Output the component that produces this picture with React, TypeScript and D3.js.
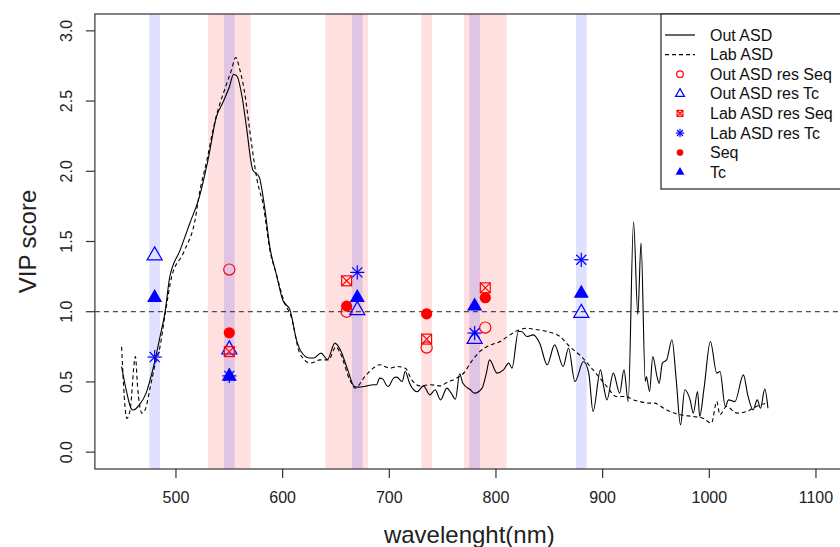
import React from 'react'
import * as d3 from 'd3'

// VIP curves (wavelength nm, VIP score)
const outWl = [449, 454, 458, 460, 466, 472, 479, 485, 490, 494, 504, 513, 522, 530, 538, 544, 550, 554, 557, 562, 566, 572, 578, 583, 588, 594, 600, 607, 613, 617, 625, 629, 636, 642, 649, 654, 661, 667, 671, 676, 679, 685, 688, 691, 694, 697, 699, 704, 707, 712, 715, 719, 726, 732, 738, 743, 748, 754, 758, 762, 766, 769, 776, 780, 787, 791, 794, 801, 807, 812, 815, 821, 824, 829, 835, 841, 848, 855, 863, 868, 874, 882, 887, 891, 898, 901, 904, 910, 916, 920, 924, 929, 933, 936, 940, 941, 944, 947, 951, 953, 956, 960, 965, 969, 973, 977, 982, 985, 989, 991, 995, 1001, 1007, 1010, 1015, 1018, 1024, 1032, 1036, 1041, 1045, 1048, 1052, 1055]
const outVip = [0.61, 0.42, 0.31, 0.3, 0.34, 0.42, 0.61, 0.82, 1.01, 1.24, 1.44, 1.63, 1.82, 2.08, 2.39, 2.49, 2.6, 2.69, 2.68, 2.53, 2.32, 2.01, 1.96, 1.75, 1.46, 1.27, 1.085, 1.01, 0.8, 0.72, 0.67, 0.67, 0.705, 0.66, 0.776, 0.73, 0.586, 0.47, 0.463, 0.467, 0.472, 0.48, 0.48, 0.527, 0.52, 0.48, 0.467, 0.527, 0.534, 0.503, 0.574, 0.49, 0.43, 0.472, 0.408, 0.444, 0.372, 0.456, 0.42, 0.377, 0.558, 0.49, 0.444, 0.42, 0.456, 0.563, 0.657, 0.563, 0.586, 0.634, 0.598, 0.859, 0.859, 0.823, 0.835, 0.776, 0.622, 0.764, 0.61, 0.74, 0.503, 0.645, 0.563, 0.289, 0.586, 0.467, 0.372, 0.563, 0.42, 0.586, 0.36, 1.64, 0.98, 1.49, 0.503, 0.538, 0.432, 0.68, 0.538, 0.49, 0.634, 0.657, 0.8, 0.515, 0.194, 0.444, 0.372, 0.278, 0.432, 0.254, 0.45, 0.788, 0.563, 0.574, 0.325, 0.372, 0.36, 0.55, 0.408, 0.3, 0.372, 0.313, 0.449, 0.313]

const labWl = [449, 454, 457, 462, 464, 468, 471, 476, 480, 485, 490, 496, 507, 519, 521, 529, 537, 546, 552, 556, 560, 565, 569, 576, 582, 588, 594, 602, 608, 616, 626, 635, 643, 650, 654, 663, 668, 677, 685, 691, 701, 707, 715, 721, 729, 738, 748, 754, 763, 771, 776, 785, 794, 804, 813, 821, 829, 835, 848, 860, 869, 880, 891, 904, 913, 922, 929, 935, 944, 948, 960, 973, 985, 994, 1002, 1007, 1010, 1016, 1026, 1035, 1041, 1048, 1054]
const labVip = [0.75, 0.24, 0.3, 0.68, 0.467, 0.278, 0.3, 0.467, 0.61, 0.75, 0.99, 1.25, 1.42, 1.7, 1.8, 2.08, 2.37, 2.59, 2.72, 2.81, 2.72, 2.53, 2.3, 1.94, 1.75, 1.44, 1.27, 1.06, 0.966, 0.705, 0.634, 0.657, 0.657, 0.75, 0.705, 0.515, 0.456, 0.538, 0.598, 0.622, 0.598, 0.61, 0.598, 0.515, 0.472, 0.48, 0.472, 0.496, 0.527, 0.574, 0.634, 0.717, 0.76, 0.788, 0.835, 0.868, 0.883, 0.876, 0.859, 0.823, 0.752, 0.681, 0.586, 0.467, 0.396, 0.396, 0.372, 0.36, 0.349, 0.349, 0.3, 0.266, 0.254, 0.242, 0.207, 0.36, 0.266, 0.325, 0.278, 0.289, 0.313, 0.337, 0.349]

// selected wavelengths
const seqWl = [550, 660, 735, 790]
const tcWl = [480, 550, 670, 780, 880]
const seqVip = [0.85, 1.04, 0.985, 1.1]
const tcVip = [1.1, 0.54, 1.1, 1.04, 1.13]
const outSeqVip = [1.3, 1.0, 0.745, 0.887]
const outTcVip = [1.4, 0.73, 1.01, 0.805, 0.99]
const labSeqVip = [0.716, 1.22, 0.805, 1.17]
const labTcVip = [0.677, 0.543, 1.28, 0.848, 1.37]

// highlighted intervals
const seqBandFrom = [530, 640, 730, 770]
const seqBandTo = [570, 680, 740, 810]
const tcBandFrom = [475, 545, 665, 775, 875]
const tcBandTo = [485, 555, 675, 785, 885]

const xTicks = [500, 600, 700, 800, 900, 1000, 1100]
const yTicks = [0, 0.5, 1, 1.5, 2, 2.5, 3]

const legendItems = [
  { label: 'Out ASD', kind: 'line', dash: null },
  { label: 'Lab ASD', kind: 'line', dash: '4,3' },
  { label: 'Out ASD res Seq', kind: 'circleOpen' },
  { label: 'Out ASD res Tc', kind: 'triOpen' },
  { label: 'Lab ASD res Seq', kind: 'squareX' },
  { label: 'Lab ASD res Tc', kind: 'star' },
  { label: 'Seq', kind: 'circleFill' },
  { label: 'Tc', kind: 'triFill' }
]

const FONT = "'Liberation Sans', Arial, Helvetica, sans-serif"

const Marker = ({ kind, x, y, r }) => {
  const sw = 1.2
  switch (kind) {
    case 'circleOpen':
      return <circle cx={x} cy={y} r={r} fill="none" stroke="red" strokeWidth={sw} />
    case 'circleFill':
      return <circle cx={x} cy={y} r={r} fill="red" />
    case 'triOpen':
    case 'triFill': {
      let t = 1.555 * r
      let xc = t * 0.866
      let pts = `${x},${y - t} ${x + xc},${y + t / 2} ${x - xc},${y + t / 2}`
      return kind === 'triFill' ? (
        <polygon points={pts} fill="blue" />
      ) : (
        <polygon points={pts} fill="none" stroke="blue" strokeWidth={sw} />
      )
    }
    case 'squareX': {
      let h = 0.886 * r
      return (
        <g stroke="red" strokeWidth={sw} fill="none">
          <rect x={x - h} y={y - h} width={2 * h} height={2 * h} />
          <line x1={x - h} y1={y - h} x2={x + h} y2={y + h} />
          <line x1={x - h} y1={y + h} x2={x + h} y2={y - h} />
        </g>
      )
    }
    case 'star': {
      let d = 0.9 * r
      let p = d * Math.SQRT2
      return (
        <g stroke="blue" strokeWidth={sw}>
          <line x1={x - d} y1={y - d} x2={x + d} y2={y + d} />
          <line x1={x - d} y1={y + d} x2={x + d} y2={y - d} />
          <line x1={x - p} y1={y} x2={x + p} y2={y} />
          <line x1={x} y1={y - p} x2={x} y2={y + p} />
        </g>
      )
    }
    default:
      return null
  }
}

export default function App() {
  const width = 840
  const height = 547
  const left = 94.9
  const right = 843.7
  const top = 14
  const bottom = 469

  const x = d3.scaleLinear().domain([424, 1126]).range([left, right])
  const y = d3.scaleLinear().domain([-0.12, 3.12]).range([bottom, top])

  const line = d3
    .line()
    .x(d => x(d[0]))
    .y(d => y(d[1]))
    .curve(d3.curveMonotoneX)

  const outPath = line(outWl.map((w, i) => [w, outVip[i]]))
  const labPath = line(labWl.map((w, i) => [w, labVip[i]]))

  const R0 = 5.6
  const pointSets = [
    { kind: 'circleOpen', wl: seqWl, vals: outSeqVip },
    { kind: 'triOpen', wl: tcWl, vals: outTcVip },
    { kind: 'squareX', wl: seqWl, vals: labSeqVip },
    { kind: 'star', wl: tcWl, vals: labTcVip },
    { kind: 'circleFill', wl: seqWl, vals: seqVip },
    { kind: 'triFill', wl: tcWl, vals: tcVip }
  ]

  // legend geometry
  const legLeft = 661
  const legTop = top
  const legBottom = 189
  const rowY0 = 35
  const rowStep = 19.6

  return (
    <svg
      width={width}
      height={height}
      style={{ position: 'absolute', left: 0, top: 0, background: '#fff' }}
      fontFamily={FONT}
    >
      <defs>
        <clipPath id="plotClip">
          <rect x={left} y={top} width={right - left} height={bottom - top} />
        </clipPath>
      </defs>

      <g clipPath="url(#plotClip)">
        {seqBandFrom.map((a, i) => (
          <rect
            key={'s' + i}
            x={x(a)}
            y={top}
            width={x(seqBandTo[i]) - x(a)}
            height={bottom - top}
            fill="red"
            fillOpacity={0.12}
          />
        ))}
        {tcBandFrom.map((a, i) => (
          <rect
            key={'t' + i}
            x={x(a)}
            y={top}
            width={x(tcBandTo[i]) - x(a)}
            height={bottom - top}
            fill="blue"
            fillOpacity={0.12}
          />
        ))}

        <line
          x1={left}
          x2={right}
          y1={y(1)}
          y2={y(1)}
          stroke="#222"
          strokeWidth={1}
          strokeDasharray="5,4"
        />

        <path d={outPath} fill="none" stroke="#000" strokeWidth={1.1} />
        <path d={labPath} fill="none" stroke="#000" strokeWidth={1.1} strokeDasharray="4,3" />

        {pointSets.map((s, si) =>
          s.wl.map((w, i) => <Marker key={si + '-' + i} kind={s.kind} x={x(w)} y={y(s.vals[i])} r={R0} />)
        )}
      </g>

      {/* box */}
      <rect x={left} y={top} width={right - left} height={bottom - top} fill="none" stroke="#333" strokeWidth={1.2} />

      {/* x axis */}
      <g>
        {xTicks.map(t => (
          <g key={t}>
            <line x1={x(t)} x2={x(t)} y1={bottom} y2={bottom + 9} stroke="#333" strokeWidth={1.2} />
            <text x={x(t)} y={503} textAnchor="middle" fontSize={16} fill="#222">
              {t}
            </text>
          </g>
        ))}
        <text x={(left + right) / 2} y={543} textAnchor="middle" fontSize={24} fill="#222">
          wavelenght(nm)
        </text>
      </g>

      {/* y axis */}
      <g>
        {yTicks.map(t => (
          <g key={t}>
            <line x1={left - 9} x2={left} y1={y(t)} y2={y(t)} stroke="#333" strokeWidth={1.2} />
            <text
              transform={`translate(66,${y(t)}) rotate(-90)`}
              textAnchor="middle"
              dy="0.35em"
              fontSize={16}
              fill="#222"
            >
              {d3.format('.1f')(t)}
            </text>
          </g>
        ))}
        <text
          transform={`translate(28,${(top + bottom) / 2}) rotate(-90)`}
          textAnchor="middle"
          dy="0.35em"
          fontSize={24}
          fill="#222"
        >
          VIP score
        </text>
      </g>

      {/* legend */}
      <g>
        <rect
          x={legLeft}
          y={legTop}
          width={right - legLeft}
          height={legBottom - legTop}
          fill="#fff"
          stroke="#222"
          strokeWidth={1.2}
        />
        {legendItems.map((it, i) => {
          let ry = rowY0 + i * rowStep
          return (
            <g key={it.label}>
              {it.kind === 'line' ? (
                <line
                  x1={665}
                  x2={695}
                  y1={ry}
                  y2={ry}
                  stroke="#000"
                  strokeWidth={1.2}
                  strokeDasharray={it.dash || undefined}
                />
              ) : (
                <Marker kind={it.kind} x={680} y={ry} r={3.3} />
              )}
              <text x={710} y={ry} dy="0.35em" fontSize={16} fill="#111">
                {it.label}
              </text>
            </g>
          )
        })}
      </g>
    </svg>
  )
}
